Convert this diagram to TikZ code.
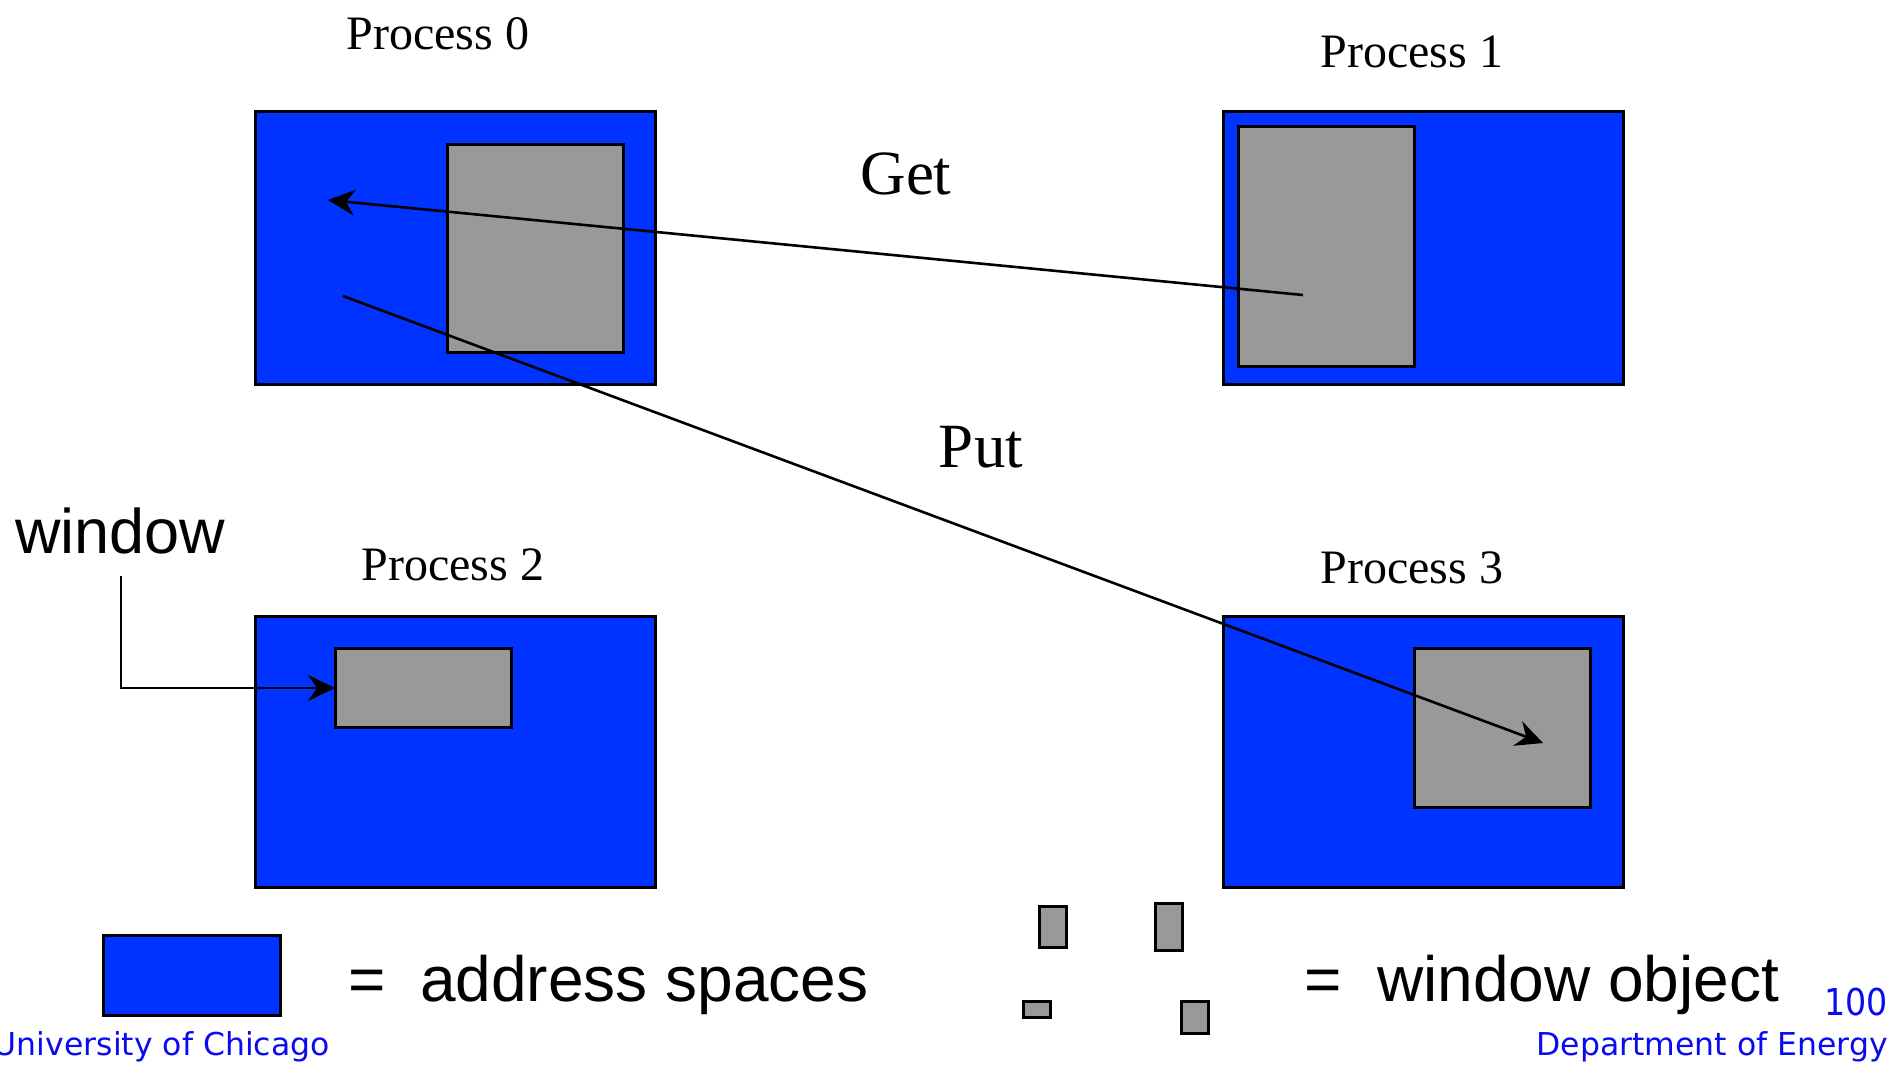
\documentclass[tikz,border=0pt]{standalone}
\usepackage{fontspec}
\setmainfont{Liberation Serif}
\setsansfont{Liberation Sans}
\newfontfamily\footfont{DejaVu Sans}
\usetikzlibrary{arrows.meta}
\definecolor{spaceblue}{HTML}{0033FF}
\definecolor{wingray}{HTML}{999999}
\definecolor{footblue}{HTML}{0A0AF0}
\tikzset{
  addrspace/.style={draw=black, fill=spaceblue, line width=3pt},
  winobj/.style={draw=black, fill=wingray, line width=3pt},
  proclabel/.style={font=\fontsize{48}{56}\selectfont, anchor=base, inner sep=0pt},
  oplabel/.style={font=\fontsize{63}{72}\selectfont, anchor=base, inner sep=0pt},
  legendtext/.style={font=\sffamily\fontsize{64}{72}\selectfont, anchor=base west, inner sep=0pt},
  foottext/.style={font=\footfont\fontsize{31.5}{36}\selectfont, text=footblue, inner sep=0pt},
  conn/.style={draw=black, line width=2.6pt, -{Stealth[length=27pt, width=26pt, inset=9pt]}},
}
\begin{document}
\begin{tikzpicture}[x=1pt, y=-1pt]
  \useasboundingbox (0,0) rectangle (1902,1070);

  % address spaces of the four processes
  \draw[addrspace] (255,112) rectangle (655,384);
  \draw[addrspace] (1223,112) rectangle (1623,384);
  \draw[addrspace] (255,616) rectangle (655,887);
  \draw[addrspace] (1223,616) rectangle (1623,887);

  % window objects exposed by each process
  \draw[winobj] (447,144) rectangle (623,352);
  \draw[winobj] (1238,127) rectangle (1414,366);
  \draw[winobj] (335,648) rectangle (511,727);
  \draw[winobj] (1414,648) rectangle (1590,807);

  % process labels
  \node[proclabel] (lp0) at (438,50) {Process 0};
  \node[proclabel] (lp1) at (1412,68) {Process 1};
  \node[proclabel] (lp2) at (453,580) {Process 2};
  \node[proclabel] (lp3) at (1412,583) {Process 3};

  % one-sided operations
  \coordinate (getsrc) at (1303,295);
  \coordinate (getdst) at (328,200);
  \coordinate (putsrc) at (343,296);
  \coordinate (putdst) at (1543,743);
  \draw[conn] (getsrc) -- (getdst);
  \draw[conn] (putsrc) -- (putdst);
  \node[oplabel] (get) at (906,194) {Get};
  \node[oplabel] (put) at (981,467) {Put};

  % window callout
  \node[legendtext, font=\sffamily\fontsize{63}{72}\selectfont] (win) at (15,553) {window};
  \coordinate (wintop) at (121,576);
  \coordinate (winbend) at (121,688);
  \coordinate (winobj2) at (335,688);
  \draw[conn] (wintop) -- (winbend) -- (winobj2);

  % legend
  \draw[addrspace] (103,935) rectangle (280,1015);
  \node[legendtext] (eq1) at (348,1001) {=};
  \node[legendtext] (addr) at (420,1001) {address spaces};

  \draw[winobj] (1039,906) rectangle (1066,947);
  \draw[winobj] (1155,903) rectangle (1182,950);
  \draw[winobj] (1023,1001) rectangle (1050,1017);
  \draw[winobj] (1181,1001) rectangle (1208,1033);
  \node[legendtext] (eq2) at (1304,1001) {=};
  \node[legendtext] (wobj) at (1377,1001) {window object};

  % footer
  \node[foottext, anchor=base east, xscale=0.9, font=\footfont\fontsize{37}{40}\selectfont] (pg) at (1888,1015) {100};
  \node[foottext, anchor=base east] (doe) at (1888,1055) {Department of Energy};
  \node[foottext, anchor=base east] (uc) at (330,1055) {University of Chicago};
\end{tikzpicture}
\end{document}
